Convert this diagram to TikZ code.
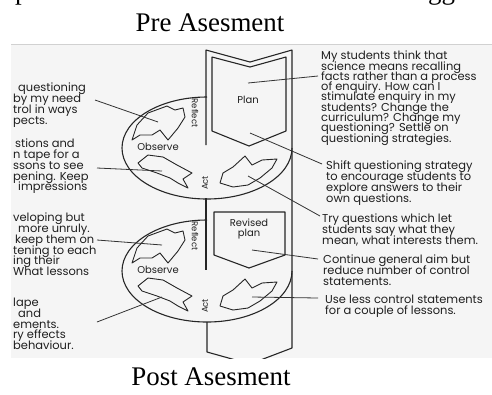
\documentclass[tikz,border=0pt]{standalone}
\usepackage{fontspec}
\setmainfont{Liberation Serif}
\newfontfamily\scanfont[Ligatures=NoCommon]{Poppins}
\usepackage{xcolor}
\setlength{\lineskiplimit}{-100pt}

\begin{document}
\begin{tikzpicture}[
            x=1bp, y=-1bp,
            every node/.style={inner sep=0pt},
            heading/.style={font=\fontsize{27}{30}\selectfont},
            note/.style={font=\scanfont\fontsize{11.5}{10.8}\selectfont, align=left, anchor=north west, text=black!88},
            tight/.style={font=\scanfont\fontsize{11.5}{10.3}\selectfont},
            stage/.style={font=\scanfont\fontsize{10}{11}\selectfont, text=black!88},
            smallstage/.style={font=\scanfont\fontsize{8.5}{9}\selectfont, text=black!88},
            outline/.style={draw=black!85, line width=1.1bp, line join=round},
            arrowbit/.style={draw=black!85, line width=0.9bp, line join=round},
            leader/.style={draw=black!80, line width=0.8bp}
        ]
            \useasboundingbox (0,0) rectangle (492,394);
            \fill[white] (0,0) rectangle (492,394);
            \fill[black!4] (11,44) rectangle (492,358);
            \draw[black!18, line width=0.6bp] (11,44) -- (492,44);

            \begin{scope}
                \clip (0,0) rectangle (492,10);
                \node[heading, anchor=base west] (cutp) at (15,-1) {p};
                \node[heading, anchor=base west] (cutgg) at (428,-1) {gg};
            \end{scope}

            \node[heading, anchor=base] (pre) at (210,31) {Pre Asesment};
            \node[heading, anchor=base] (post) at (211,385) {Post Asesment};

            \begin{scope}
                \clip (11,44) rectangle (492,358);
                \draw[outline] (206,145) -- (206,50) -- (250,62) -- (292,50) -- (292,348) -- (250,364);
                \draw[outline] (206,198) -- (206,270);
                \draw[outline] (207,322) -- (207,352) -- (250,364);
            \end{scope}

            \draw[outline] (212,57) -- (250,67) -- (286,57) -- (286,131) -- (249,146) -- (212,131) -- cycle;
            \draw[outline] (214,212) -- (285,212) -- (285,255) -- (249,268) -- (214,255) -- cycle;
            \node[stage] (plan) at (248,100) {Plan};
            \node[stage, align=center] (revised) at (249,229) {Revised\\plan};

            \foreach \dy/\cyc in {0/pre, 123/post} {
                \begin{scope}[yshift=-\dy bp]
                    \draw[outline] (207,97) arc[start angle=-90, end angle=-360, x radius=85, y radius=51];
                    \draw[arrowbit] (132,140) -- (137,125) -- (148,113) -- (167,106) -- (175,110) -- (183,108)
                        -- (185,117) -- (178,128) -- (168,140) -- (160,130) -- (152,135) -- (140,135) -- cycle;
                    \draw[arrowbit] (138,163) -- (148,155) -- (163,157) -- (177,165) -- (192,173) -- (183,179)
                        -- (188,188) -- (178,183) -- (170,178) -- (157,173) -- (142,168) -- cycle;
                    \draw[arrowbit] (220,183) -- (223,173) -- (233,167) -- (245,156) -- (252,165) -- (262,160)
                        -- (277,159) -- (272,168) -- (260,178) -- (248,185) -- (233,187) -- cycle;
                    \node[smallstage, rotate=-90] (reflect-\cyc) at (195,113) {Reflect};
                    \node[stage] (observe-\cyc) at (158,147) {Observe};
                    \node[smallstage, rotate=90] (act-\cyc) at (205,183) {Act};
                \end{scope}
            }

            \node[note] (fragA) at (13,83) {\hspace{5bp}questioning\\by my need\\trol in ways\\pects.};
            \node[note] (fragB) at (13,139) {\hspace{2bp}stions and\\n tape for a\\ssons to see\\pening. Keep\\\hspace{5bp}impressions};
            \node[note] (fragC) at (13,213) {veloping but\\\hspace{5bp}more unruly.\\\hspace{2bp}keep them on\\tening to each\\ing their\\What lessons};
            \node[note] (fragD) at (13,298) {lape\\\hspace{5bp}and\\ements.\\ry effects\\behaviour.};

            \node[note, tight] (doubt) at (321,51) {My students think that\\science means recalling\\facts rather than a process\\of enquiry. How can I\\stimulate enquiry in my\\students? Change the\\curriculum? Change my\\questioning? Settle on\\questioning strategies.};
            \node[note] (shift) at (326,161) {Shift questioning strategy\\to encourage students to\\explore answers to their\\own questions.};
            \node[note] (tryq) at (322,214) {Try questions which let\\students say what they\\mean, what interests them.};
            \node[note] (keepaim) at (323,255) {Continue general aim but\\reduce number of control\\statements.};
            \node[note] (lesscontrol) at (325,295) {Use less control statements\\for a couple of lessons.};

            \coordinate (endA) at (95,100);
            \coordinate (endB) at (97,168);
            \coordinate (endC) at (97,240);
            \coordinate (endD) at (97,322);
            \coordinate (inReflectPre) at (158,122);
            \coordinate (inObservePre) at (162,171);
            \coordinate (inReflectPost) at (162,245);
            \coordinate (inObservePost) at (162,297);
            \coordinate (inPlan) at (248,83);
            \coordinate (planFoot) at (250,133);
            \coordinate (inActPre) at (248,176);
            \coordinate (inRevised) at (252,250);
            \coordinate (inActPost) at (252,297);
            \coordinate (tipDoubt) at (318,76);
            \coordinate (tipShift) at (322,164);
            \coordinate (tipTry) at (320,216);
            \coordinate (tipAim) at (318,259);
            \coordinate (tipLess) at (318,298);

            \draw[leader] (endA) -- (inReflectPre);
            \draw[leader] (endB) -- (inObservePre);
            \draw[leader] (endC) -- (inReflectPost);
            \draw[leader] (endD) -- (inObservePost);
            \draw[leader] (tipDoubt) -- (inPlan);
            \draw[leader] (tipShift) -- (planFoot);
            \draw[leader] (tipTry) -- (inActPre);
            \draw[leader] (tipAim) -- (inRevised);
            \draw[leader] (tipLess) -- (inActPost);
        \end{tikzpicture}
\end{document}
